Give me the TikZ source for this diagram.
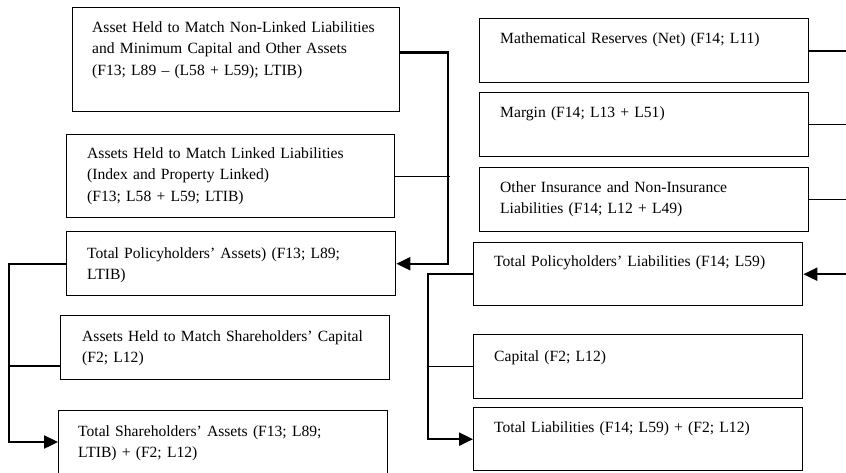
\documentclass[tikz,border=0pt]{standalone}
\usepackage{fontspec}
\setmainfont{Liberation Serif}
\usetikzlibrary{arrows.meta,calc}
\begin{document}
\begin{tikzpicture}[x=1pt,y=-1pt,
  bx/.style={draw, line width=1.4pt, anchor=north west, inner sep=0pt},
  tx/.style={anchor=base west, inner sep=0pt, text width=330pt, align=left,
             font=\fontsize{15.6}{21.8}\selectfont},
  thickln/.style={line width=2.4pt},
  thinln/.style={line width=1.1pt},
  tipend/.style={-{Triangle[length=14pt,width=13pt]}}]
\path[use as bounding box] (0,0) rectangle (846,472);
\clip (0,0) rectangle (846,472);
% left boxes
\node[bx, minimum width=327pt, minimum height=104pt] (a1) at (72,7) {};
\node[bx, minimum width=328pt, minimum height=83pt] (a2) at (66,134) {};
\node[bx, minimum width=329pt, minimum height=64pt] (a3) at (66,231) {};
\node[bx, minimum width=329pt, minimum height=64pt] (a4) at (60,315) {};
\node[bx, minimum width=329pt, minimum height=80pt] (a5) at (58,410) {};
% right boxes
\node[bx, minimum width=329pt, minimum height=64pt] (b1) at (479,18) {};
\node[bx, minimum width=329pt, minimum height=64pt] (b2) at (479,92) {};
\node[bx, minimum width=329pt, minimum height=64pt] (b3) at (479,167) {};
\node[bx, minimum width=329pt, minimum height=63pt] (b4) at (473,242) {};
\node[bx, minimum width=329pt, minimum height=64pt] (b5) at (473,334) {};
\node[bx, minimum width=329pt, minimum height=63pt] (b6) at (473,407) {};
% texts
\node[tx] (a1t) at (92,32) {Asset Held to Match Non-Linked Liabilities\\and Minimum Capital and Other Assets\\(F13; L89 – (L58 + L59); LTIB)};
\node[tx] (a2t) at (87,158) {Assets Held to Match Linked Liabilities\\(Index and Property Linked)\\(F13; L58 + L59; LTIB)};
\node[tx] (a3t) at (87,258) {Total Policyholders’ Assets) (F13; L89;\\LTIB)};
\node[tx] (a4t) at (82,341) {Assets Held to Match Shareholders’ Capital\\(F2; L12)};
\node[tx] (a5t) at (78,436) {Total Shareholders’ Assets (F13; L89;\\LTIB) + (F2; L12)};
\node[tx] (b1t) at (500,43) {Mathematical Reserves (Net) (F14; L11)};
\node[tx] (b2t) at (500,117) {Margin (F14; L13 + L51)};
\node[tx] (b3t) at (500,192) {Other Insurance and Non-Insurance\\Liabilities (F14; L12 + L49)};
\node[tx] (b4t) at (494,266) {Total Policyholders’ Liabilities (F14; L59)};
\node[tx] (b5t) at (494,361) {Capital (F2; L12)};
\node[tx] (b6t) at (494,432) {Total Liabilities (F14; L59) + (F2; L12)};
% junction columns
\coordinate (ja) at (448,0);
\coordinate (jl) at (9,0);
\coordinate (jr) at (870,0);
\coordinate (jb) at (428,0);
\coordinate (a1p) at ($(a1.north east)!0.43!(a1.south east)$);
\coordinate (a4p) at ($(a4.north west)!0.78!(a4.south west)$);
\coordinate (a5p) at ($(a5.north west)+(0,32)$);
% left connectors
\draw[thickln, tipend] (a1p) -| (ja |- a3.east) -- (a3.east);
\draw[thinln] (a2.east) -- ([xshift=2pt]ja |- a2.east);
\draw[thickln, tipend] (a3.west) -| (jl |- a5p) -- (a5p);
\draw[thinln] (a4p) -- (jl |- a4p);
% right connectors
\draw[thickln, tipend] (b1.east) -| (jr |- b4.east) -- (b4.east);
\draw[thinln] (b2.east) -- (jr |- b2.east);
\draw[thinln] (b3.east) -- (jr |- b3.east);
\draw[thickln, tipend] (b4.west) -| (jb |- b6.west) -- (b6.west);
\draw[thinln] (b5.west) -- ([xshift=-1pt]jb |- b5.west);
\end{tikzpicture}
\end{document}
